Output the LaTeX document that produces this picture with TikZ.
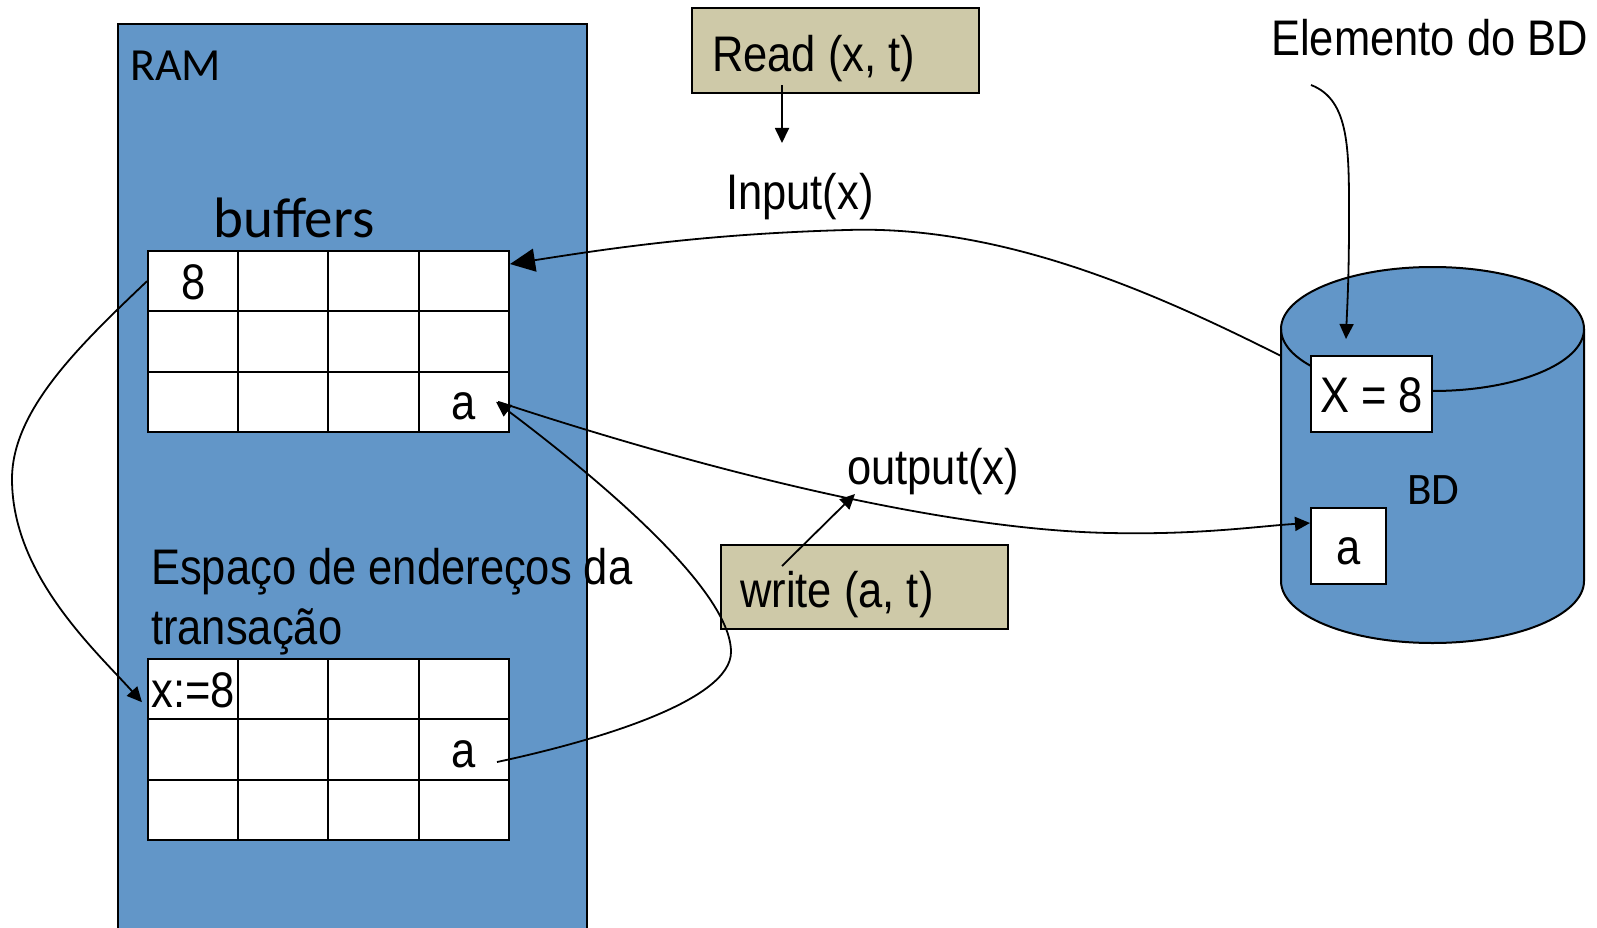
\documentclass[tikz,border=0pt]{standalone}
\usepackage{fontspec}
\setmainfont[FakeStretch=0.87]{Liberation Sans}
\newfontfamily\calib{Carlito}
\usetikzlibrary{arrows.meta,calc}
\definecolor{ramblue}{HTML}{6296C8}
\definecolor{optan}{HTML}{CEC9A8}
\begin{document}
\begin{tikzpicture}[x=1pt,y=-1pt,
  cell/.style={draw, line width=2pt, fill=white, minimum width=90.25pt, minimum height=60.33pt, inner sep=0pt, text height=36pt, text depth=0pt, font=\fontsize{50}{58}\selectfont},
  opbox/.style={draw, line width=2pt, fill=optan, minimum width=287pt, minimum height=85pt, inner sep=0pt},
  txt/.style={inner sep=0pt, anchor=base west, font=\fontsize{50}{58}\selectfont},
  ctxt/.style={inner sep=0pt, anchor=base west},
  dbbox/.style={draw, line width=2pt, fill=white, inner sep=0pt, text height=36pt, text depth=0pt, font=\fontsize{50}{58}\selectfont},
  conn/.style={line width=1.8pt},
  arr/.style={conn, -{Triangle[length=15pt,width=14pt]}},
  bigarr/.style={conn, -{Triangle[length=25pt,width=23pt]}}
]
\useasboundingbox (0,0) rectangle (1597,928);
\clip (0,0) rectangle (1597,928);

% RAM block
\node[draw, line width=2pt, fill=ramblue, minimum width=469pt, minimum height=920pt, anchor=north west, inner sep=0pt] (ram) at (117,23.5) {};
\node[ctxt, font=\calib\fontsize{46}{54}\selectfont] (ramlbl) at (130,81) {RAM};
\node[ctxt, font=\calib\fontsize{57}{60}\selectfont] (buflbl) at (213,237) {buffers};

% buffer grid
\node[cell] (b11) at (193.1,281.2) {8};
\node[cell] (b12) at (283.4,281.2) {};
\node[cell] (b13) at (373.6,281.2) {};
\node[cell] (b14) at (463.9,281.2) {};
\node[cell] (b21) at (193.1,341.5) {};
\node[cell] (b22) at (283.4,341.5) {};
\node[cell] (b23) at (373.6,341.5) {};
\node[cell] (b24) at (463.9,341.5) {};
\node[cell] (b31) at (193.1,401.8) {};
\node[cell] (b32) at (283.4,401.8) {};
\node[cell] (b33) at (373.6,401.8) {};
\node[cell] (b34) at (463.9,401.8) {a};

\node[txt, anchor=north west, align=left, font=\fontsize{50}{60}\selectfont] (esp) at (151,548) {Espaço de endereços da\\transação};

% transaction grid
\node[cell] (t11) at (193.1,689.2) {x:=8};
\node[cell] (t12) at (283.4,689.2) {};
\node[cell] (t13) at (373.6,689.2) {};
\node[cell] (t14) at (463.9,689.2) {};
\node[cell] (t21) at (193.1,749.5) {};
\node[cell] (t22) at (283.4,749.5) {};
\node[cell] (t23) at (373.6,749.5) {};
\node[cell] (t24) at (463.9,749.5) {a};
\node[cell] (t31) at (193.1,809.8) {};
\node[cell] (t32) at (283.4,809.8) {};
\node[cell] (t33) at (373.6,809.8) {};
\node[cell] (t34) at (463.9,809.8) {};

% operation boxes
\node[opbox] (read) at (835.5,51) {};
\node[txt] (readtxt) at (712,72) {Read (x, t)};
\node[opbox, minimum height=84pt] (write) at (864.5,587) {};
\node[txt] (writetxt) at (740,607) {write (a, t)};

\node[txt] (input) at (726,209) {Input(x)};
\node[txt] (output) at (847,484) {output(x)};
\node[txt] (elem) at (1271,56) {Elemento do BD};

% database cylinder
\fill[ramblue] (1281,329) -- (1281,581) arc[start angle=180,end angle=360,x radius=151.5pt,y radius=62pt] -- (1584,329) arc[start angle=0,end angle=180,x radius=151.5pt,y radius=62pt] -- cycle;
\draw[line width=2pt] (1281,329) -- (1281,581) arc[start angle=180,end angle=360,x radius=151.5pt,y radius=62pt] -- (1584,329);
\draw[line width=2pt] (1432.5,329) ellipse[x radius=151.5pt,y radius=62pt];
\coordinate (cylL) at (1281,356);
\node[ctxt, font=\calib\fontsize{45}{50}\selectfont] (bd) at (1407,504) {BD};
\node[dbbox, minimum width=121pt, minimum height=76pt] (xbox) at (1371.5,394) {X = 8};
\node[dbbox, minimum width=75pt, minimum height=76pt] (abox) at (1348.5,546) {a};

% connectors
\draw[arr] ([xshift=-53.5pt,yshift=9pt]read.south) -- ([xshift=56pt,yshift=66pt]input.base west);
\draw[bigarr] (cylL) .. controls (1150,290) and (1000,225) .. (847,230) .. controls (700,234) and (600,250) .. ([yshift=-14pt]b14.north east);
\draw[arr] ([xshift=-12pt]b34.east) .. controls (720,475) and (950,530) .. (1110,533) .. controls (1200,535) and (1260,526) .. ([yshift=23pt]abox.west);
\draw[arr] ([xshift=-13pt,yshift=-12.5pt]t24.east) .. controls (600,740) and (731,700) .. (731,652) .. controls (731,590) and (600,480) .. ([xshift=-14pt]b34.east);
\draw[arr] (b11.west) .. controls (80,345) and (12,410) .. (12,479) .. controls (12,575) and (95,650) .. ([xshift=-5pt,yshift=-13pt]t11.west);
\draw[arr] ([xshift=40pt,yshift=-29pt]elem.base west) .. controls (1350,100) and (1349,150) .. (1349,220) .. controls (1349,280) and (1347,310) .. ([xshift=-25.5pt,yshift=16pt]xbox.north);
\draw[arr] ([xshift=42pt,yshift=41pt]writetxt.base west) -- ([xshift=8pt,yshift=-10pt]output.base west);
\end{tikzpicture}
\end{document}
